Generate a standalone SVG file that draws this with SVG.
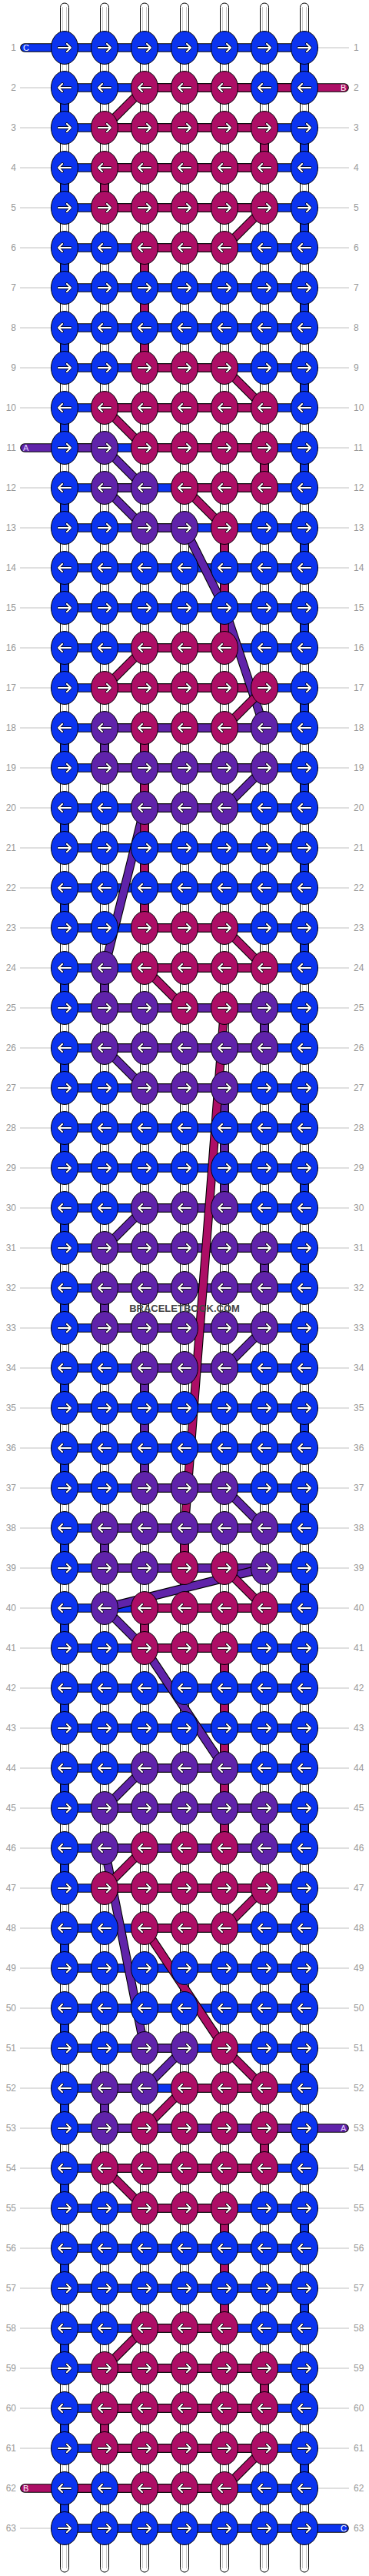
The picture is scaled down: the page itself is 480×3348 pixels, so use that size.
<svg xmlns="http://www.w3.org/2000/svg" width="480" height="3348" viewBox="0 0 480 3348">
<style>
.b{fill:#0b34f0}.m{fill:#ad0e66}.p{fill:#6023aa}
.o{fill:none;stroke:#000;stroke-width:11.6;stroke-linecap:round;stroke-linejoin:round}
.cb{fill:none;stroke:#0b34f0;stroke-width:9.4;stroke-linecap:round;stroke-linejoin:round}
.cm{fill:none;stroke:#ad0e66;stroke-width:9.4;stroke-linecap:round;stroke-linejoin:round}
.cp{fill:none;stroke:#6023aa;stroke-width:9.4;stroke-linecap:round;stroke-linejoin:round}
.ws{fill:#fff;stroke:#000;stroke-width:1}
.wl{stroke:#c8c8c8;stroke-width:1;fill:none}
.gl{stroke:#c0c0c0;stroke-width:1;fill:none}
.lb{font-family:"Liberation Sans",Arial,sans-serif;font-size:12px;fill:#999}
.le{text-anchor:end}
.ex{font-family:"Liberation Sans",Arial,sans-serif;font-size:11px;fill:#fff}
.wm{font-family:"Liberation Sans",Arial,sans-serif;font-size:13px;font-weight:bold;fill:#444;text-anchor:middle}
.kn{stroke:#000;stroke-width:1}
.a1{fill:none;stroke:#000;stroke-width:3.6;stroke-linecap:round;stroke-linejoin:round}
.a2{fill:none;stroke:#fff;stroke-width:2.2;stroke-linecap:round;stroke-linejoin:round}
</style>
<defs>
<g id="R"><ellipse class="kn" rx="17.5" ry="21.5"/><path class="a1" d="M-8,0H8M3,-5L8,0L3,5"/><path class="a2" d="M-8,0H8M3,-5L8,0L3,5"/></g>
<g id="L"><ellipse class="kn" rx="17.5" ry="21.5"/><path class="a1" d="M8,0H-8M-3,-5L-8,0L-3,5"/><path class="a2" d="M8,0H-8M-3,-5L-8,0L-3,5"/></g>
<path id="hb" d="M32,62H396V114H84V166H396V218H84V270H396V322H84V374H396V426H84V478H396V530H84V582H396V634H84V686H396V738H84V790H396V842H84V894H396V946H84V998H396V1050H84V1102H396V1154H84V1206H396V1258H84V1310H396V1362H84V1414H396V1466H84V1518H396V1570H84V1622H396V1674H84V1726H396V1778H84V1830H396V1882H84V1934H396V1986H84V2038H396V2090H84V2142H396V2194H84V2246H396V2298H84V2350H396V2402H84V2454H396V2506H84V2558H396V2610H84V2662H396V2714H84V2766H396V2818H84V2870H396V2922H84V2974H396V3026H84V3078H396V3130H84V3182H396V3234H84V3286H448"/>
<path id="hm" d="M188,114H448M136,166H344M136,218H344M136,270H344M188,322H292M188,478H292M136,530H344M188,582H344M240,634H344M188,842H292M136,894H344M188,1206H292M188,1258H344M188,2090H344M188,2142H292M136,2454H344M188,2506H292M240,2714H344M136,2818H344M188,2870H292M188,3026H292M136,3078H344M136,3130H344M136,3182H344M32,3234H292"/>
<path id="hp" d="M32,582H136M136,634H188M188,686H240M136,946H344M136,998H344M188,1050H292M136,1310H344M136,1362H344M188,1414H292M188,1570H292M136,1622H344M136,1674H344M136,1726H344M188,1778H292M188,1934H292M136,1986H344M136,2038H344M188,2298H292M136,2350H344M136,2402H344M188,2662H240M136,2714H188M136,2766H448"/>
<path id="vp" d="M136,946V998M136,1258V1310M344,1310V1362M292,1414V1570M344,1622V1674M136,1674V1726M188,1778V1934M136,1986V2038M344,2350V2402M136,2714V2766M136,582L188,634M136,634L188,686M344,998L292,1050M136,1362L188,1414M188,1570L136,1622M344,1726L292,1778M292,1934L344,1986M188,2298L136,2350M240,2662L188,2714M240,686L292,790L344,946M188,1050L136,1258M344,2038L136,2090L188,2142L292,2298M136,2402L188,2662"/>
<path id="vm" d="M344,166V218M136,218V270M188,322V478M344,582V634M292,686V842M188,946V1206M188,2090V2142M292,2142V2402M344,2766V2818M292,2870V3026M344,3078V3130M136,3130V3182M188,114L136,166M344,270L292,322M292,478L344,530M136,530L188,582M240,634L292,686M188,842L136,894M344,894L292,946M292,1206L344,1258M188,1258L240,1310M292,2038L344,2090M188,2402L136,2454M344,2454L292,2506M292,2662L344,2714M240,2714L188,2766M136,2818L188,2870M188,3026L136,3078M344,3182L292,3234M292,1310L240,1986V2038M188,2506L292,2662"/>
</defs>
<g id="strings">
<rect class="ws" x="78.5" y="4" width="11" height="3339" rx="5.5"/>
<rect class="ws" x="130.5" y="4" width="11" height="3339" rx="5.5"/>
<rect class="ws" x="182.5" y="4" width="11" height="3339" rx="5.5"/>
<rect class="ws" x="234.5" y="4" width="11" height="3339" rx="5.5"/>
<rect class="ws" x="286.5" y="4" width="11" height="3339" rx="5.5"/>
<rect class="ws" x="338.5" y="4" width="11" height="3339" rx="5.5"/>
<rect class="ws" x="390.5" y="4" width="11" height="3339" rx="5.5"/>
<path class="wl" d="M81.5,9V3338M86.5,9V3338M133.5,9V3338M138.5,9V3338M185.5,9V3338M190.5,9V3338M237.5,9V3338M242.5,9V3338M289.5,9V3338M294.5,9V3338M341.5,9V3338M346.5,9V3338M393.5,9V3338M398.5,9V3338"/>
</g>
<g id="rowlines">
<path class="gl" d="M26,62H66M414,62H454M26,114H66M414,114H454M26,166H66M414,166H454M26,218H66M414,218H454M26,270H66M414,270H454M26,322H66M414,322H454M26,374H66M414,374H454M26,426H66M414,426H454M26,478H66M414,478H454M26,530H66M414,530H454M26,582H66M414,582H454M26,634H66M414,634H454M26,686H66M414,686H454M26,738H66M414,738H454M26,790H66M414,790H454M26,842H66M414,842H454M26,894H66M414,894H454M26,946H66M414,946H454M26,998H66M414,998H454M26,1050H66M414,1050H454M26,1102H66M414,1102H454M26,1154H66M414,1154H454M26,1206H66M414,1206H454M26,1258H66M414,1258H454M26,1310H66M414,1310H454M26,1362H66M414,1362H454M26,1414H66M414,1414H454M26,1466H66M414,1466H454M26,1518H66M414,1518H454M26,1570H66M414,1570H454M26,1622H66M414,1622H454M26,1674H66M414,1674H454M26,1726H66M414,1726H454M26,1778H66M414,1778H454M26,1830H66M414,1830H454M26,1882H66M414,1882H454M26,1934H66M414,1934H454M26,1986H66M414,1986H454M26,2038H66M414,2038H454M26,2090H66M414,2090H454M26,2142H66M414,2142H454M26,2194H66M414,2194H454M26,2246H66M414,2246H454M26,2298H66M414,2298H454M26,2350H66M414,2350H454M26,2402H66M414,2402H454M26,2454H66M414,2454H454M26,2506H66M414,2506H454M26,2558H66M414,2558H454M26,2610H66M414,2610H454M26,2662H66M414,2662H454M26,2714H66M414,2714H454M26,2766H66M414,2766H454M26,2818H66M414,2818H454M26,2870H66M414,2870H454M26,2922H66M414,2922H454M26,2974H66M414,2974H454M26,3026H66M414,3026H454M26,3078H66M414,3078H454M26,3130H66M414,3130H454M26,3182H66M414,3182H454M26,3234H66M414,3234H454M26,3286H66M414,3286H454"/>
</g>
<g id="labels" class="lb">
<text class="le" x="21" y="66">1</text><text x="460" y="66">1</text>
<text class="le" x="21" y="118">2</text><text x="460" y="118">2</text>
<text class="le" x="21" y="170">3</text><text x="460" y="170">3</text>
<text class="le" x="21" y="222">4</text><text x="460" y="222">4</text>
<text class="le" x="21" y="274">5</text><text x="460" y="274">5</text>
<text class="le" x="21" y="326">6</text><text x="460" y="326">6</text>
<text class="le" x="21" y="378">7</text><text x="460" y="378">7</text>
<text class="le" x="21" y="430">8</text><text x="460" y="430">8</text>
<text class="le" x="21" y="482">9</text><text x="460" y="482">9</text>
<text class="le" x="21" y="534">10</text><text x="460" y="534">10</text>
<text class="le" x="21" y="586">11</text><text x="460" y="586">11</text>
<text class="le" x="21" y="638">12</text><text x="460" y="638">12</text>
<text class="le" x="21" y="690">13</text><text x="460" y="690">13</text>
<text class="le" x="21" y="742">14</text><text x="460" y="742">14</text>
<text class="le" x="21" y="794">15</text><text x="460" y="794">15</text>
<text class="le" x="21" y="846">16</text><text x="460" y="846">16</text>
<text class="le" x="21" y="898">17</text><text x="460" y="898">17</text>
<text class="le" x="21" y="950">18</text><text x="460" y="950">18</text>
<text class="le" x="21" y="1002">19</text><text x="460" y="1002">19</text>
<text class="le" x="21" y="1054">20</text><text x="460" y="1054">20</text>
<text class="le" x="21" y="1106">21</text><text x="460" y="1106">21</text>
<text class="le" x="21" y="1158">22</text><text x="460" y="1158">22</text>
<text class="le" x="21" y="1210">23</text><text x="460" y="1210">23</text>
<text class="le" x="21" y="1262">24</text><text x="460" y="1262">24</text>
<text class="le" x="21" y="1314">25</text><text x="460" y="1314">25</text>
<text class="le" x="21" y="1366">26</text><text x="460" y="1366">26</text>
<text class="le" x="21" y="1418">27</text><text x="460" y="1418">27</text>
<text class="le" x="21" y="1470">28</text><text x="460" y="1470">28</text>
<text class="le" x="21" y="1522">29</text><text x="460" y="1522">29</text>
<text class="le" x="21" y="1574">30</text><text x="460" y="1574">30</text>
<text class="le" x="21" y="1626">31</text><text x="460" y="1626">31</text>
<text class="le" x="21" y="1678">32</text><text x="460" y="1678">32</text>
<text class="le" x="21" y="1730">33</text><text x="460" y="1730">33</text>
<text class="le" x="21" y="1782">34</text><text x="460" y="1782">34</text>
<text class="le" x="21" y="1834">35</text><text x="460" y="1834">35</text>
<text class="le" x="21" y="1886">36</text><text x="460" y="1886">36</text>
<text class="le" x="21" y="1938">37</text><text x="460" y="1938">37</text>
<text class="le" x="21" y="1990">38</text><text x="460" y="1990">38</text>
<text class="le" x="21" y="2042">39</text><text x="460" y="2042">39</text>
<text class="le" x="21" y="2094">40</text><text x="460" y="2094">40</text>
<text class="le" x="21" y="2146">41</text><text x="460" y="2146">41</text>
<text class="le" x="21" y="2198">42</text><text x="460" y="2198">42</text>
<text class="le" x="21" y="2250">43</text><text x="460" y="2250">43</text>
<text class="le" x="21" y="2302">44</text><text x="460" y="2302">44</text>
<text class="le" x="21" y="2354">45</text><text x="460" y="2354">45</text>
<text class="le" x="21" y="2406">46</text><text x="460" y="2406">46</text>
<text class="le" x="21" y="2458">47</text><text x="460" y="2458">47</text>
<text class="le" x="21" y="2510">48</text><text x="460" y="2510">48</text>
<text class="le" x="21" y="2562">49</text><text x="460" y="2562">49</text>
<text class="le" x="21" y="2614">50</text><text x="460" y="2614">50</text>
<text class="le" x="21" y="2666">51</text><text x="460" y="2666">51</text>
<text class="le" x="21" y="2718">52</text><text x="460" y="2718">52</text>
<text class="le" x="21" y="2770">53</text><text x="460" y="2770">53</text>
<text class="le" x="21" y="2822">54</text><text x="460" y="2822">54</text>
<text class="le" x="21" y="2874">55</text><text x="460" y="2874">55</text>
<text class="le" x="21" y="2926">56</text><text x="460" y="2926">56</text>
<text class="le" x="21" y="2978">57</text><text x="460" y="2978">57</text>
<text class="le" x="21" y="3030">58</text><text x="460" y="3030">58</text>
<text class="le" x="21" y="3082">59</text><text x="460" y="3082">59</text>
<text class="le" x="21" y="3134">60</text><text x="460" y="3134">60</text>
<text class="le" x="21" y="3186">61</text><text x="460" y="3186">61</text>
<text class="le" x="21" y="3238">62</text><text x="460" y="3238">62</text>
<text class="le" x="21" y="3290">63</text><text x="460" y="3290">63</text>
</g>
<g id="connectors">
<use href="#hb" class="o"/><use href="#hb" class="cb"/>
<use href="#hm" class="o"/><use href="#hm" class="cm"/>
<use href="#hp" class="o"/><use href="#hp" class="cp"/>
<use href="#vp" class="o"/><use href="#vp" class="cp"/>
<use href="#vm" class="o"/><use href="#vm" class="cm"/>
</g>
<g id="exits" class="ex">
<text x="30" y="66">C</text>
<text x="443" y="118">B</text>
<text x="30" y="586" style="fill:#e4d6ff">A</text>
<text x="443" y="2770" style="fill:#e4d6ff">A</text>
<text x="30" y="3238">B</text>
<text x="443" y="3290">C</text>
</g>
<g id="knots">
<use id="k1-1" href="#R" x="84" y="62" class="b"/><use id="k1-2" href="#R" x="136" y="62" class="b"/><use id="k1-3" href="#R" x="188" y="62" class="b"/><use id="k1-4" href="#R" x="240" y="62" class="b"/><use id="k1-5" href="#R" x="292" y="62" class="b"/><use id="k1-6" href="#R" x="344" y="62" class="b"/><use id="k1-7" href="#R" x="396" y="62" class="b"/>
<use id="k2-1" href="#L" x="84" y="114" class="b"/><use id="k2-2" href="#L" x="136" y="114" class="b"/><use id="k2-3" href="#L" x="188" y="114" class="m"/><use id="k2-4" href="#L" x="240" y="114" class="m"/><use id="k2-5" href="#L" x="292" y="114" class="m"/><use id="k2-6" href="#L" x="344" y="114" class="b"/><use id="k2-7" href="#L" x="396" y="114" class="b"/>
<use id="k3-1" href="#R" x="84" y="166" class="b"/><use id="k3-2" href="#R" x="136" y="166" class="m"/><use id="k3-3" href="#R" x="188" y="166" class="m"/><use id="k3-4" href="#R" x="240" y="166" class="m"/><use id="k3-5" href="#R" x="292" y="166" class="m"/><use id="k3-6" href="#R" x="344" y="166" class="m"/><use id="k3-7" href="#R" x="396" y="166" class="b"/>
<use id="k4-1" href="#L" x="84" y="218" class="b"/><use id="k4-2" href="#L" x="136" y="218" class="m"/><use id="k4-3" href="#L" x="188" y="218" class="m"/><use id="k4-4" href="#L" x="240" y="218" class="m"/><use id="k4-5" href="#L" x="292" y="218" class="m"/><use id="k4-6" href="#L" x="344" y="218" class="m"/><use id="k4-7" href="#L" x="396" y="218" class="b"/>
<use id="k5-1" href="#R" x="84" y="270" class="b"/><use id="k5-2" href="#R" x="136" y="270" class="m"/><use id="k5-3" href="#R" x="188" y="270" class="m"/><use id="k5-4" href="#R" x="240" y="270" class="m"/><use id="k5-5" href="#R" x="292" y="270" class="m"/><use id="k5-6" href="#R" x="344" y="270" class="m"/><use id="k5-7" href="#R" x="396" y="270" class="b"/>
<use id="k6-1" href="#L" x="84" y="322" class="b"/><use id="k6-2" href="#L" x="136" y="322" class="b"/><use id="k6-3" href="#L" x="188" y="322" class="m"/><use id="k6-4" href="#L" x="240" y="322" class="m"/><use id="k6-5" href="#L" x="292" y="322" class="m"/><use id="k6-6" href="#L" x="344" y="322" class="b"/><use id="k6-7" href="#L" x="396" y="322" class="b"/>
<use id="k7-1" href="#R" x="84" y="374" class="b"/><use id="k7-2" href="#R" x="136" y="374" class="b"/><use id="k7-3" href="#R" x="188" y="374" class="b"/><use id="k7-4" href="#R" x="240" y="374" class="b"/><use id="k7-5" href="#R" x="292" y="374" class="b"/><use id="k7-6" href="#R" x="344" y="374" class="b"/><use id="k7-7" href="#R" x="396" y="374" class="b"/>
<use id="k8-1" href="#L" x="84" y="426" class="b"/><use id="k8-2" href="#L" x="136" y="426" class="b"/><use id="k8-3" href="#L" x="188" y="426" class="b"/><use id="k8-4" href="#L" x="240" y="426" class="b"/><use id="k8-5" href="#L" x="292" y="426" class="b"/><use id="k8-6" href="#L" x="344" y="426" class="b"/><use id="k8-7" href="#L" x="396" y="426" class="b"/>
<use id="k9-1" href="#R" x="84" y="478" class="b"/><use id="k9-2" href="#R" x="136" y="478" class="b"/><use id="k9-3" href="#R" x="188" y="478" class="m"/><use id="k9-4" href="#R" x="240" y="478" class="m"/><use id="k9-5" href="#R" x="292" y="478" class="m"/><use id="k9-6" href="#R" x="344" y="478" class="b"/><use id="k9-7" href="#R" x="396" y="478" class="b"/>
<use id="k10-1" href="#L" x="84" y="530" class="b"/><use id="k10-2" href="#L" x="136" y="530" class="m"/><use id="k10-3" href="#L" x="188" y="530" class="m"/><use id="k10-4" href="#L" x="240" y="530" class="m"/><use id="k10-5" href="#L" x="292" y="530" class="m"/><use id="k10-6" href="#L" x="344" y="530" class="m"/><use id="k10-7" href="#L" x="396" y="530" class="b"/>
<use id="k11-1" href="#R" x="84" y="582" class="b"/><use id="k11-2" href="#R" x="136" y="582" class="p"/><use id="k11-3" href="#R" x="188" y="582" class="m"/><use id="k11-4" href="#R" x="240" y="582" class="m"/><use id="k11-5" href="#R" x="292" y="582" class="m"/><use id="k11-6" href="#R" x="344" y="582" class="m"/><use id="k11-7" href="#R" x="396" y="582" class="b"/>
<use id="k12-1" href="#L" x="84" y="634" class="b"/><use id="k12-2" href="#L" x="136" y="634" class="p"/><use id="k12-3" href="#L" x="188" y="634" class="p"/><use id="k12-4" href="#L" x="240" y="634" class="m"/><use id="k12-5" href="#L" x="292" y="634" class="m"/><use id="k12-6" href="#L" x="344" y="634" class="m"/><use id="k12-7" href="#L" x="396" y="634" class="b"/>
<use id="k13-1" href="#R" x="84" y="686" class="b"/><use id="k13-2" href="#R" x="136" y="686" class="b"/><use id="k13-3" href="#R" x="188" y="686" class="p"/><use id="k13-4" href="#R" x="240" y="686" class="p"/><use id="k13-5" href="#R" x="292" y="686" class="m"/><use id="k13-6" href="#R" x="344" y="686" class="b"/><use id="k13-7" href="#R" x="396" y="686" class="b"/>
<use id="k14-1" href="#L" x="84" y="738" class="b"/><use id="k14-2" href="#L" x="136" y="738" class="b"/><use id="k14-3" href="#L" x="188" y="738" class="b"/><use id="k14-4" href="#L" x="240" y="738" class="b"/><use id="k14-5" href="#L" x="292" y="738" class="b"/><use id="k14-6" href="#L" x="344" y="738" class="b"/><use id="k14-7" href="#L" x="396" y="738" class="b"/>
<use id="k15-1" href="#R" x="84" y="790" class="b"/><use id="k15-2" href="#R" x="136" y="790" class="b"/><use id="k15-3" href="#R" x="188" y="790" class="b"/><use id="k15-4" href="#R" x="240" y="790" class="b"/><use id="k15-5" href="#R" x="292" y="790" class="b"/><use id="k15-6" href="#R" x="344" y="790" class="b"/><use id="k15-7" href="#R" x="396" y="790" class="b"/>
<use id="k16-1" href="#L" x="84" y="842" class="b"/><use id="k16-2" href="#L" x="136" y="842" class="b"/><use id="k16-3" href="#L" x="188" y="842" class="m"/><use id="k16-4" href="#L" x="240" y="842" class="m"/><use id="k16-5" href="#L" x="292" y="842" class="m"/><use id="k16-6" href="#L" x="344" y="842" class="b"/><use id="k16-7" href="#L" x="396" y="842" class="b"/>
<use id="k17-1" href="#R" x="84" y="894" class="b"/><use id="k17-2" href="#R" x="136" y="894" class="m"/><use id="k17-3" href="#R" x="188" y="894" class="m"/><use id="k17-4" href="#R" x="240" y="894" class="m"/><use id="k17-5" href="#R" x="292" y="894" class="m"/><use id="k17-6" href="#R" x="344" y="894" class="m"/><use id="k17-7" href="#R" x="396" y="894" class="b"/>
<use id="k18-1" href="#L" x="84" y="946" class="b"/><use id="k18-2" href="#L" x="136" y="946" class="p"/><use id="k18-3" href="#L" x="188" y="946" class="m"/><use id="k18-4" href="#L" x="240" y="946" class="m"/><use id="k18-5" href="#L" x="292" y="946" class="m"/><use id="k18-6" href="#L" x="344" y="946" class="p"/><use id="k18-7" href="#L" x="396" y="946" class="b"/>
<use id="k19-1" href="#R" x="84" y="998" class="b"/><use id="k19-2" href="#R" x="136" y="998" class="p"/><use id="k19-3" href="#R" x="188" y="998" class="p"/><use id="k19-4" href="#R" x="240" y="998" class="p"/><use id="k19-5" href="#R" x="292" y="998" class="p"/><use id="k19-6" href="#R" x="344" y="998" class="p"/><use id="k19-7" href="#R" x="396" y="998" class="b"/>
<use id="k20-1" href="#L" x="84" y="1050" class="b"/><use id="k20-2" href="#L" x="136" y="1050" class="b"/><use id="k20-3" href="#L" x="188" y="1050" class="p"/><use id="k20-4" href="#L" x="240" y="1050" class="p"/><use id="k20-5" href="#L" x="292" y="1050" class="p"/><use id="k20-6" href="#L" x="344" y="1050" class="b"/><use id="k20-7" href="#L" x="396" y="1050" class="b"/>
<use id="k21-1" href="#R" x="84" y="1102" class="b"/><use id="k21-2" href="#R" x="136" y="1102" class="b"/><use id="k21-3" href="#R" x="188" y="1102" class="b"/><use id="k21-4" href="#R" x="240" y="1102" class="b"/><use id="k21-5" href="#R" x="292" y="1102" class="b"/><use id="k21-6" href="#R" x="344" y="1102" class="b"/><use id="k21-7" href="#R" x="396" y="1102" class="b"/>
<use id="k22-1" href="#L" x="84" y="1154" class="b"/><use id="k22-2" href="#L" x="136" y="1154" class="b"/><use id="k22-3" href="#L" x="188" y="1154" class="b"/><use id="k22-4" href="#L" x="240" y="1154" class="b"/><use id="k22-5" href="#L" x="292" y="1154" class="b"/><use id="k22-6" href="#L" x="344" y="1154" class="b"/><use id="k22-7" href="#L" x="396" y="1154" class="b"/>
<use id="k23-1" href="#R" x="84" y="1206" class="b"/><use id="k23-2" href="#R" x="136" y="1206" class="b"/><use id="k23-3" href="#R" x="188" y="1206" class="m"/><use id="k23-4" href="#R" x="240" y="1206" class="m"/><use id="k23-5" href="#R" x="292" y="1206" class="m"/><use id="k23-6" href="#R" x="344" y="1206" class="b"/><use id="k23-7" href="#R" x="396" y="1206" class="b"/>
<use id="k24-1" href="#L" x="84" y="1258" class="b"/><use id="k24-2" href="#L" x="136" y="1258" class="p"/><use id="k24-3" href="#L" x="188" y="1258" class="m"/><use id="k24-4" href="#L" x="240" y="1258" class="m"/><use id="k24-5" href="#L" x="292" y="1258" class="m"/><use id="k24-6" href="#L" x="344" y="1258" class="m"/><use id="k24-7" href="#L" x="396" y="1258" class="b"/>
<use id="k25-1" href="#R" x="84" y="1310" class="b"/><use id="k25-2" href="#R" x="136" y="1310" class="p"/><use id="k25-3" href="#R" x="188" y="1310" class="p"/><use id="k25-4" href="#R" x="240" y="1310" class="m"/><use id="k25-5" href="#R" x="292" y="1310" class="m"/><use id="k25-6" href="#R" x="344" y="1310" class="p"/><use id="k25-7" href="#R" x="396" y="1310" class="b"/>
<use id="k26-1" href="#L" x="84" y="1362" class="b"/><use id="k26-2" href="#L" x="136" y="1362" class="p"/><use id="k26-3" href="#L" x="188" y="1362" class="p"/><use id="k26-4" href="#L" x="240" y="1362" class="p"/><use id="k26-5" href="#L" x="292" y="1362" class="p"/><use id="k26-6" href="#L" x="344" y="1362" class="p"/><use id="k26-7" href="#L" x="396" y="1362" class="b"/>
<use id="k27-1" href="#R" x="84" y="1414" class="b"/><use id="k27-2" href="#R" x="136" y="1414" class="b"/><use id="k27-3" href="#R" x="188" y="1414" class="p"/><use id="k27-4" href="#R" x="240" y="1414" class="p"/><use id="k27-5" href="#R" x="292" y="1414" class="p"/><use id="k27-6" href="#R" x="344" y="1414" class="b"/><use id="k27-7" href="#R" x="396" y="1414" class="b"/>
<use id="k28-1" href="#L" x="84" y="1466" class="b"/><use id="k28-2" href="#L" x="136" y="1466" class="b"/><use id="k28-3" href="#L" x="188" y="1466" class="b"/><use id="k28-4" href="#L" x="240" y="1466" class="b"/><use id="k28-5" href="#L" x="292" y="1466" class="b"/><use id="k28-6" href="#L" x="344" y="1466" class="b"/><use id="k28-7" href="#L" x="396" y="1466" class="b"/>
<use id="k29-1" href="#R" x="84" y="1518" class="b"/><use id="k29-2" href="#R" x="136" y="1518" class="b"/><use id="k29-3" href="#R" x="188" y="1518" class="b"/><use id="k29-4" href="#R" x="240" y="1518" class="b"/><use id="k29-5" href="#R" x="292" y="1518" class="b"/><use id="k29-6" href="#R" x="344" y="1518" class="b"/><use id="k29-7" href="#R" x="396" y="1518" class="b"/>
<use id="k30-1" href="#L" x="84" y="1570" class="b"/><use id="k30-2" href="#L" x="136" y="1570" class="b"/><use id="k30-3" href="#L" x="188" y="1570" class="p"/><use id="k30-4" href="#L" x="240" y="1570" class="p"/><use id="k30-5" href="#L" x="292" y="1570" class="p"/><use id="k30-6" href="#L" x="344" y="1570" class="b"/><use id="k30-7" href="#L" x="396" y="1570" class="b"/>
<use id="k31-1" href="#R" x="84" y="1622" class="b"/><use id="k31-2" href="#R" x="136" y="1622" class="p"/><use id="k31-3" href="#R" x="188" y="1622" class="p"/><use id="k31-4" href="#R" x="240" y="1622" class="p"/><use id="k31-5" href="#R" x="292" y="1622" class="p"/><use id="k31-6" href="#R" x="344" y="1622" class="p"/><use id="k31-7" href="#R" x="396" y="1622" class="b"/>
<use id="k32-1" href="#L" x="84" y="1674" class="b"/><use id="k32-2" href="#L" x="136" y="1674" class="p"/><use id="k32-3" href="#L" x="188" y="1674" class="p"/><use id="k32-4" href="#L" x="240" y="1674" class="p"/><use id="k32-5" href="#L" x="292" y="1674" class="p"/><use id="k32-6" href="#L" x="344" y="1674" class="p"/><use id="k32-7" href="#L" x="396" y="1674" class="b"/>
<use id="k33-1" href="#R" x="84" y="1726" class="b"/><use id="k33-2" href="#R" x="136" y="1726" class="p"/><use id="k33-3" href="#R" x="188" y="1726" class="p"/><use id="k33-4" href="#R" x="240" y="1726" class="p"/><use id="k33-5" href="#R" x="292" y="1726" class="p"/><use id="k33-6" href="#R" x="344" y="1726" class="p"/><use id="k33-7" href="#R" x="396" y="1726" class="b"/>
<use id="k34-1" href="#L" x="84" y="1778" class="b"/><use id="k34-2" href="#L" x="136" y="1778" class="b"/><use id="k34-3" href="#L" x="188" y="1778" class="p"/><use id="k34-4" href="#L" x="240" y="1778" class="p"/><use id="k34-5" href="#L" x="292" y="1778" class="p"/><use id="k34-6" href="#L" x="344" y="1778" class="b"/><use id="k34-7" href="#L" x="396" y="1778" class="b"/>
<use id="k35-1" href="#R" x="84" y="1830" class="b"/><use id="k35-2" href="#R" x="136" y="1830" class="b"/><use id="k35-3" href="#R" x="188" y="1830" class="b"/><use id="k35-4" href="#R" x="240" y="1830" class="b"/><use id="k35-5" href="#R" x="292" y="1830" class="b"/><use id="k35-6" href="#R" x="344" y="1830" class="b"/><use id="k35-7" href="#R" x="396" y="1830" class="b"/>
<use id="k36-1" href="#L" x="84" y="1882" class="b"/><use id="k36-2" href="#L" x="136" y="1882" class="b"/><use id="k36-3" href="#L" x="188" y="1882" class="b"/><use id="k36-4" href="#L" x="240" y="1882" class="b"/><use id="k36-5" href="#L" x="292" y="1882" class="b"/><use id="k36-6" href="#L" x="344" y="1882" class="b"/><use id="k36-7" href="#L" x="396" y="1882" class="b"/>
<use id="k37-1" href="#R" x="84" y="1934" class="b"/><use id="k37-2" href="#R" x="136" y="1934" class="b"/><use id="k37-3" href="#R" x="188" y="1934" class="p"/><use id="k37-4" href="#R" x="240" y="1934" class="p"/><use id="k37-5" href="#R" x="292" y="1934" class="p"/><use id="k37-6" href="#R" x="344" y="1934" class="b"/><use id="k37-7" href="#R" x="396" y="1934" class="b"/>
<use id="k38-1" href="#L" x="84" y="1986" class="b"/><use id="k38-2" href="#L" x="136" y="1986" class="p"/><use id="k38-3" href="#L" x="188" y="1986" class="p"/><use id="k38-4" href="#L" x="240" y="1986" class="p"/><use id="k38-5" href="#L" x="292" y="1986" class="p"/><use id="k38-6" href="#L" x="344" y="1986" class="p"/><use id="k38-7" href="#L" x="396" y="1986" class="b"/>
<use id="k39-1" href="#R" x="84" y="2038" class="b"/><use id="k39-2" href="#R" x="136" y="2038" class="p"/><use id="k39-3" href="#R" x="188" y="2038" class="p"/><use id="k39-4" href="#R" x="240" y="2038" class="m"/><use id="k39-5" href="#R" x="292" y="2038" class="m"/><use id="k39-6" href="#R" x="344" y="2038" class="p"/><use id="k39-7" href="#R" x="396" y="2038" class="b"/>
<use id="k40-1" href="#L" x="84" y="2090" class="b"/><use id="k40-2" href="#L" x="136" y="2090" class="p"/><use id="k40-3" href="#L" x="188" y="2090" class="m"/><use id="k40-4" href="#L" x="240" y="2090" class="m"/><use id="k40-5" href="#L" x="292" y="2090" class="m"/><use id="k40-6" href="#L" x="344" y="2090" class="m"/><use id="k40-7" href="#L" x="396" y="2090" class="b"/>
<use id="k41-1" href="#R" x="84" y="2142" class="b"/><use id="k41-2" href="#R" x="136" y="2142" class="b"/><use id="k41-3" href="#R" x="188" y="2142" class="m"/><use id="k41-4" href="#R" x="240" y="2142" class="m"/><use id="k41-5" href="#R" x="292" y="2142" class="m"/><use id="k41-6" href="#R" x="344" y="2142" class="b"/><use id="k41-7" href="#R" x="396" y="2142" class="b"/>
<use id="k42-1" href="#L" x="84" y="2194" class="b"/><use id="k42-2" href="#L" x="136" y="2194" class="b"/><use id="k42-3" href="#L" x="188" y="2194" class="b"/><use id="k42-4" href="#L" x="240" y="2194" class="b"/><use id="k42-5" href="#L" x="292" y="2194" class="b"/><use id="k42-6" href="#L" x="344" y="2194" class="b"/><use id="k42-7" href="#L" x="396" y="2194" class="b"/>
<use id="k43-1" href="#R" x="84" y="2246" class="b"/><use id="k43-2" href="#R" x="136" y="2246" class="b"/><use id="k43-3" href="#R" x="188" y="2246" class="b"/><use id="k43-4" href="#R" x="240" y="2246" class="b"/><use id="k43-5" href="#R" x="292" y="2246" class="b"/><use id="k43-6" href="#R" x="344" y="2246" class="b"/><use id="k43-7" href="#R" x="396" y="2246" class="b"/>
<use id="k44-1" href="#L" x="84" y="2298" class="b"/><use id="k44-2" href="#L" x="136" y="2298" class="b"/><use id="k44-3" href="#L" x="188" y="2298" class="p"/><use id="k44-4" href="#L" x="240" y="2298" class="p"/><use id="k44-5" href="#L" x="292" y="2298" class="p"/><use id="k44-6" href="#L" x="344" y="2298" class="b"/><use id="k44-7" href="#L" x="396" y="2298" class="b"/>
<use id="k45-1" href="#R" x="84" y="2350" class="b"/><use id="k45-2" href="#R" x="136" y="2350" class="p"/><use id="k45-3" href="#R" x="188" y="2350" class="p"/><use id="k45-4" href="#R" x="240" y="2350" class="p"/><use id="k45-5" href="#R" x="292" y="2350" class="p"/><use id="k45-6" href="#R" x="344" y="2350" class="p"/><use id="k45-7" href="#R" x="396" y="2350" class="b"/>
<use id="k46-1" href="#L" x="84" y="2402" class="b"/><use id="k46-2" href="#L" x="136" y="2402" class="p"/><use id="k46-3" href="#L" x="188" y="2402" class="m"/><use id="k46-4" href="#L" x="240" y="2402" class="m"/><use id="k46-5" href="#L" x="292" y="2402" class="m"/><use id="k46-6" href="#L" x="344" y="2402" class="p"/><use id="k46-7" href="#L" x="396" y="2402" class="b"/>
<use id="k47-1" href="#R" x="84" y="2454" class="b"/><use id="k47-2" href="#R" x="136" y="2454" class="m"/><use id="k47-3" href="#R" x="188" y="2454" class="m"/><use id="k47-4" href="#R" x="240" y="2454" class="m"/><use id="k47-5" href="#R" x="292" y="2454" class="m"/><use id="k47-6" href="#R" x="344" y="2454" class="m"/><use id="k47-7" href="#R" x="396" y="2454" class="b"/>
<use id="k48-1" href="#L" x="84" y="2506" class="b"/><use id="k48-2" href="#L" x="136" y="2506" class="b"/><use id="k48-3" href="#L" x="188" y="2506" class="m"/><use id="k48-4" href="#L" x="240" y="2506" class="m"/><use id="k48-5" href="#L" x="292" y="2506" class="m"/><use id="k48-6" href="#L" x="344" y="2506" class="b"/><use id="k48-7" href="#L" x="396" y="2506" class="b"/>
<use id="k49-1" href="#R" x="84" y="2558" class="b"/><use id="k49-2" href="#R" x="136" y="2558" class="b"/><use id="k49-3" href="#R" x="188" y="2558" class="b"/><use id="k49-4" href="#R" x="240" y="2558" class="b"/><use id="k49-5" href="#R" x="292" y="2558" class="b"/><use id="k49-6" href="#R" x="344" y="2558" class="b"/><use id="k49-7" href="#R" x="396" y="2558" class="b"/>
<use id="k50-1" href="#L" x="84" y="2610" class="b"/><use id="k50-2" href="#L" x="136" y="2610" class="b"/><use id="k50-3" href="#L" x="188" y="2610" class="b"/><use id="k50-4" href="#L" x="240" y="2610" class="b"/><use id="k50-5" href="#L" x="292" y="2610" class="b"/><use id="k50-6" href="#L" x="344" y="2610" class="b"/><use id="k50-7" href="#L" x="396" y="2610" class="b"/>
<use id="k51-1" href="#R" x="84" y="2662" class="b"/><use id="k51-2" href="#R" x="136" y="2662" class="b"/><use id="k51-3" href="#R" x="188" y="2662" class="p"/><use id="k51-4" href="#R" x="240" y="2662" class="p"/><use id="k51-5" href="#R" x="292" y="2662" class="m"/><use id="k51-6" href="#R" x="344" y="2662" class="b"/><use id="k51-7" href="#R" x="396" y="2662" class="b"/>
<use id="k52-1" href="#L" x="84" y="2714" class="b"/><use id="k52-2" href="#L" x="136" y="2714" class="p"/><use id="k52-3" href="#L" x="188" y="2714" class="p"/><use id="k52-4" href="#L" x="240" y="2714" class="m"/><use id="k52-5" href="#L" x="292" y="2714" class="m"/><use id="k52-6" href="#L" x="344" y="2714" class="m"/><use id="k52-7" href="#L" x="396" y="2714" class="b"/>
<use id="k53-1" href="#R" x="84" y="2766" class="b"/><use id="k53-2" href="#R" x="136" y="2766" class="p"/><use id="k53-3" href="#R" x="188" y="2766" class="m"/><use id="k53-4" href="#R" x="240" y="2766" class="m"/><use id="k53-5" href="#R" x="292" y="2766" class="m"/><use id="k53-6" href="#R" x="344" y="2766" class="m"/><use id="k53-7" href="#R" x="396" y="2766" class="b"/>
<use id="k54-1" href="#L" x="84" y="2818" class="b"/><use id="k54-2" href="#L" x="136" y="2818" class="m"/><use id="k54-3" href="#L" x="188" y="2818" class="m"/><use id="k54-4" href="#L" x="240" y="2818" class="m"/><use id="k54-5" href="#L" x="292" y="2818" class="m"/><use id="k54-6" href="#L" x="344" y="2818" class="m"/><use id="k54-7" href="#L" x="396" y="2818" class="b"/>
<use id="k55-1" href="#R" x="84" y="2870" class="b"/><use id="k55-2" href="#R" x="136" y="2870" class="b"/><use id="k55-3" href="#R" x="188" y="2870" class="m"/><use id="k55-4" href="#R" x="240" y="2870" class="m"/><use id="k55-5" href="#R" x="292" y="2870" class="m"/><use id="k55-6" href="#R" x="344" y="2870" class="b"/><use id="k55-7" href="#R" x="396" y="2870" class="b"/>
<use id="k56-1" href="#L" x="84" y="2922" class="b"/><use id="k56-2" href="#L" x="136" y="2922" class="b"/><use id="k56-3" href="#L" x="188" y="2922" class="b"/><use id="k56-4" href="#L" x="240" y="2922" class="b"/><use id="k56-5" href="#L" x="292" y="2922" class="b"/><use id="k56-6" href="#L" x="344" y="2922" class="b"/><use id="k56-7" href="#L" x="396" y="2922" class="b"/>
<use id="k57-1" href="#R" x="84" y="2974" class="b"/><use id="k57-2" href="#R" x="136" y="2974" class="b"/><use id="k57-3" href="#R" x="188" y="2974" class="b"/><use id="k57-4" href="#R" x="240" y="2974" class="b"/><use id="k57-5" href="#R" x="292" y="2974" class="b"/><use id="k57-6" href="#R" x="344" y="2974" class="b"/><use id="k57-7" href="#R" x="396" y="2974" class="b"/>
<use id="k58-1" href="#L" x="84" y="3026" class="b"/><use id="k58-2" href="#L" x="136" y="3026" class="b"/><use id="k58-3" href="#L" x="188" y="3026" class="m"/><use id="k58-4" href="#L" x="240" y="3026" class="m"/><use id="k58-5" href="#L" x="292" y="3026" class="m"/><use id="k58-6" href="#L" x="344" y="3026" class="b"/><use id="k58-7" href="#L" x="396" y="3026" class="b"/>
<use id="k59-1" href="#R" x="84" y="3078" class="b"/><use id="k59-2" href="#R" x="136" y="3078" class="m"/><use id="k59-3" href="#R" x="188" y="3078" class="m"/><use id="k59-4" href="#R" x="240" y="3078" class="m"/><use id="k59-5" href="#R" x="292" y="3078" class="m"/><use id="k59-6" href="#R" x="344" y="3078" class="m"/><use id="k59-7" href="#R" x="396" y="3078" class="b"/>
<use id="k60-1" href="#L" x="84" y="3130" class="b"/><use id="k60-2" href="#L" x="136" y="3130" class="m"/><use id="k60-3" href="#L" x="188" y="3130" class="m"/><use id="k60-4" href="#L" x="240" y="3130" class="m"/><use id="k60-5" href="#L" x="292" y="3130" class="m"/><use id="k60-6" href="#L" x="344" y="3130" class="m"/><use id="k60-7" href="#L" x="396" y="3130" class="b"/>
<use id="k61-1" href="#R" x="84" y="3182" class="b"/><use id="k61-2" href="#R" x="136" y="3182" class="m"/><use id="k61-3" href="#R" x="188" y="3182" class="m"/><use id="k61-4" href="#R" x="240" y="3182" class="m"/><use id="k61-5" href="#R" x="292" y="3182" class="m"/><use id="k61-6" href="#R" x="344" y="3182" class="m"/><use id="k61-7" href="#R" x="396" y="3182" class="b"/>
<use id="k62-1" href="#L" x="84" y="3234" class="b"/><use id="k62-2" href="#L" x="136" y="3234" class="b"/><use id="k62-3" href="#L" x="188" y="3234" class="m"/><use id="k62-4" href="#L" x="240" y="3234" class="m"/><use id="k62-5" href="#L" x="292" y="3234" class="m"/><use id="k62-6" href="#L" x="344" y="3234" class="b"/><use id="k62-7" href="#L" x="396" y="3234" class="b"/>
<use id="k63-1" href="#R" x="84" y="3286" class="b"/><use id="k63-2" href="#R" x="136" y="3286" class="b"/><use id="k63-3" href="#R" x="188" y="3286" class="b"/><use id="k63-4" href="#R" x="240" y="3286" class="b"/><use id="k63-5" href="#R" x="292" y="3286" class="b"/><use id="k63-6" href="#R" x="344" y="3286" class="b"/><use id="k63-7" href="#R" x="396" y="3286" class="b"/>
</g>
<g id="watermark"><text class="wm" x="240" y="1705">BRACELETBOOK.COM</text></g>
</svg>
